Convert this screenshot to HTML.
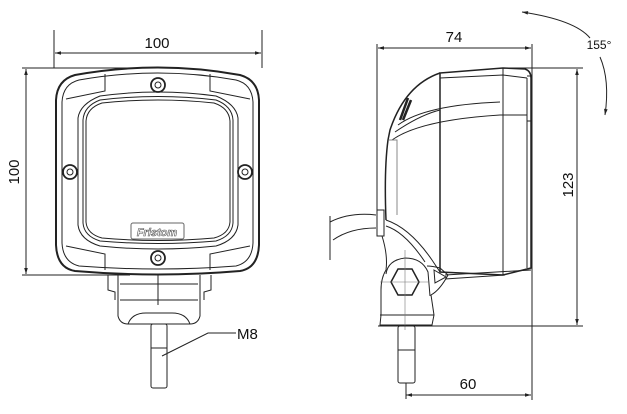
<!DOCTYPE html>
<html><head><meta charset="utf-8"><style>html,body{margin:0;padding:0;background:#fff}svg{display:block}</style></head>
<body>
<svg width="627" height="414" viewBox="0 0 627 414" xmlns="http://www.w3.org/2000/svg" font-family="Liberation Sans, sans-serif">
<defs>
<marker id="a" viewBox="0 0 10 10" refX="10" refY="5" markerWidth="10" markerHeight="6" orient="auto-start-reverse"><path d="M0,2 L10,5 L0,8z" fill="#222"/></marker>
</defs>
<g stroke="#222" fill="none" stroke-width="1">
<!-- front view dims -->
<line x1="54" y1="30" x2="54" y2="68"/><line x1="262" y1="30" x2="262" y2="68"/>
<line x1="55" y1="53" x2="261" y2="53" marker-start="url(#a)" marker-end="url(#a)"/>
<line x1="22" y1="68" x2="150" y2="68"/><line x1="22" y1="275" x2="130" y2="275"/>
<line x1="26" y1="69" x2="26" y2="274" marker-start="url(#a)" marker-end="url(#a)"/>
<!-- housing -->
<path d="M75,75 Q158,60 240,75 Q258,80 259,100 L259,245 Q258,268 240,271 Q158,278 75,271 Q57,268 56,245 L56,100 Q57,80 75,75Z" stroke-width="2"/>
<path d="M79,80 Q158,66 236,80 Q252,84 253,102 L253,243 Q252,262 236,266 Q158,272 79,266 Q63,262 62,243 L62,102 Q63,84 79,80Z"/>
<path d="M105,74 L105,91 L66,99 M210,74 L210,91 L250,99 M105,270 L105,254 L66,246 M210,270 L210,254 L250,246"/>
<path d="M100,96 Q158,88 216,96 Q236,104 238,118 L238,225 Q236,240 216,246 Q158,252 100,246 Q80,240 78,225 L78,118 Q80,104 100,96Z"/>
<path d="M100,100 Q158,93 216,100 Q232,106 233,120 L233,223 Q232,236 216,241 Q158,246 100,241 Q84,236 83,223 L83,120 Q84,106 100,100Z"/>
<path d="M102,103 Q158,97 214,103 Q229,108 230,121 L230,222 Q229,234 214,238 Q158,243 102,238 Q87,234 86,222 L86,121 Q87,108 102,103Z"/>
<circle cx="158" cy="85" r="7" stroke-width="1.8"/><circle cx="158" cy="85" r="3"/>
<circle cx="70" cy="172" r="7" stroke-width="1.8"/><circle cx="70" cy="172" r="3"/>
<circle cx="245" cy="172" r="7" stroke-width="1.8"/><circle cx="245" cy="172" r="3"/>
<circle cx="158" cy="258" r="7" stroke-width="1.8"/><circle cx="158" cy="258" r="3"/>
<rect x="131" y="223" width="53" height="16" rx="2" stroke="#666"/>
<!-- bracket -->
<path d="M108,275 L108,290 L115,292 L115,300 M211,275 L211,290 L204,292 L204,300"/>
<path d="M118,275 L118,316 Q120,324 128,324 L190,324 Q198,324 200,316 L200,275"/>
<path d="M120,300 L198,300 M120,284 L198,284 M158,275 L158,305 M128,324 Q132,313 146,313 L172,313 Q186,313 190,324"/>
<rect x="151" y="324" width="16" height="64" rx="2"/>
<path d="M151,348 L167,348"/>
<path d="M162,356 L208,333 L236,333"/>
<!-- side view dims -->
<line x1="377" y1="44" x2="377" y2="215"/><line x1="532" y1="44" x2="532" y2="400"/>
<line x1="378" y1="48" x2="531" y2="48" marker-start="url(#a)" marker-end="url(#a)"/>
<line x1="505" y1="68" x2="583" y2="68"/><line x1="378" y1="326" x2="583" y2="326"/>
<line x1="577" y1="69" x2="577" y2="325" marker-start="url(#a)" marker-end="url(#a)"/>
<line x1="406" y1="395" x2="531" y2="395" marker-start="url(#a)" marker-end="url(#a)"/>
<line x1="406" y1="383" x2="406" y2="399"/>
<!-- body -->
<path d="M440,73 L503,68 L525,69 Q531,71 531,78 L531,268 L503,275 L440,272Z" stroke-width="1.5"/>
<path d="M503,68 L503,275 M527,78 L527,268 M440,73 L440,272 M527,76 L531,76 L531,121 L527,121"/>
<path d="M440,73 Q405,85 390,130 L388,140 Q384,170 386,220" stroke-width="1.5"/>
<path d="M395,132 Q420,115 440,110 M398,125 Q425,105 500,102 M392,140 Q420,120 500,115 L527,115 M440,78 L503,75 L527,78"/>
<path d="M400,120 L408,98 M403,120 L411,100" stroke-width="2.5"/>
<path d="M389,140 L397,140 L397,215" stroke="#888"/>
<path d="M386,220 Q410,228 432,260 L440,272 M386,226 Q405,232 425,262"/>
<path d="M377,210 L384,210 L384,236 L377,236Z"/>
<path d="M330,222 Q350,212 376,215 M333,240 Q350,228 376,228 M330,216 L330,260" />
<!-- clamp -->
<path d="M382,236 Q388,255 386,270 Q381,278 381,290 L381,315 L380,325 L432,325 L434,315 L431,295 Q440,290 448,275 L440,268 Q432,266 427,266"/>
<path d="M386,274 Q388,260 405,258 Q422,258 428,272 L430,296"/>
<path d="M380,315 L434,315"/>
<polygon points="391,282 398,269 412,269 419,282 412,295 398,295" stroke-width="1.5"/>
<path d="M434,270 L446,277 L435,283Z"/>
<path d="M405,250 L405,330 M380,282 L428,282" stroke="#777" stroke-width="0.6"/>
<path d="M445,275 L531,270 M445,279 L505,275"/>
<rect x="398" y="326" width="17" height="57" rx="2"/>
<path d="M398,350 L415,350"/>
<!-- 155 arc -->
<path d="M522,12 Q575,20 590,38" marker-start="url(#a)"/>
<path d="M600,57 Q610,80 605,115" marker-end="url(#a)"/>
</g>
<g fill="#111" font-size="15">
<text x="157" y="48" text-anchor="middle">100</text>
<text x="19" y="172" text-anchor="middle" transform="rotate(-90 19 172)">100</text>
<text x="237" y="339">M8</text>
<text x="454" y="42" text-anchor="middle">74</text>
<text x="573" y="185" text-anchor="middle" transform="rotate(-90 573 185)">123</text>
<text x="468" y="389" text-anchor="middle">60</text>
<text x="599" y="49" text-anchor="middle" font-size="12">155°</text>
<text x="157" y="236" text-anchor="middle" font-size="11" font-style="italic" font-weight="bold" fill="#fff" stroke="#555" stroke-width="0.6">Fristom</text>
</g>
</svg>
</body></html>
